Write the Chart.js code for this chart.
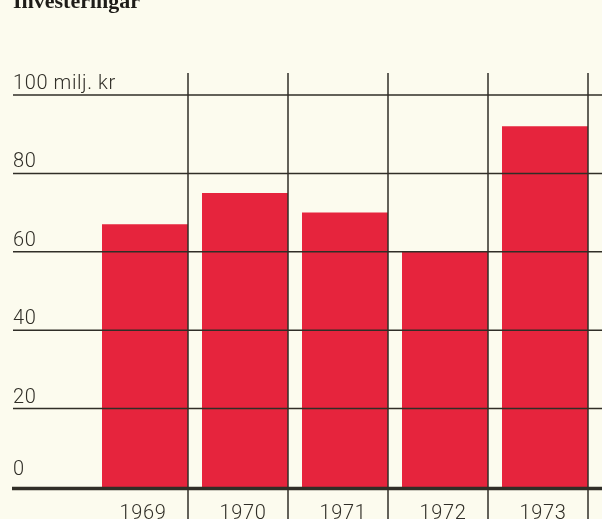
<!DOCTYPE html>
<html>
<head>
<meta charset="utf-8">
<script src="https://cdn.jsdelivr.net/npm/chart.js@4/dist/chart.umd.min.js"></script>
<style>
  html, body { margin: 0; padding: 0; background: #fcfbee; }
  #wrap { position: relative; width: 602px; height: 519px; }
</style>
</head>
<body>
<div id="wrap"><canvas id="chart-bars"></canvas></div>
<script>
  var title = "Investeringar";
  var years = ["1969", "1970", "1971", "1972", "1973"];
  var investments = [67, 75, 70, 60, 92];
  var tickValues = [0, 20, 40, 60, 80, 100];
  var tickLabels = ["0", "20", "40", "60", "80", "100 milj. kr"];

  var inkColor = "#302e27";
  var labelFont = "300 20px Roboto";

  // grid, axis labels and title drawn over the bars, as in the print
  var paperGrid = {
    id: "paperGrid",
    afterDatasetsDraw: function (chart) {
      var ctx = chart.ctx;
      var y = chart.scales.y;
      var bars = chart.getDatasetMeta(0).data;
      ctx.save();
      ctx.strokeStyle = inkColor;
      ctx.fillStyle = inkColor;
      ctx.letterSpacing = "0.6px";

      // horizontal lines
      tickValues.forEach(function (v, i) {
        var py = y.getPixelForValue(v);
        ctx.lineWidth = v === 0 ? 3.5 : 1.5;
        ctx.beginPath();
        ctx.moveTo(v === 0 ? 12 : 13, v === 0 ? py + 1.5 : py);
        ctx.lineTo(602, v === 0 ? py + 1.5 : py);
        ctx.stroke();
        ctx.font = labelFont;
        ctx.textAlign = "left";
        ctx.textBaseline = "alphabetic";
        ctx.fillText(tickLabels[i], 13, v === 0 ? py - 12 : py - 6);
      });

      // vertical lines on the right edge of each bar
      ctx.lineWidth = 1.5;
      bars.forEach(function (bar, i) {
        var px = Math.round(bar.x + bar.width / 2);
        ctx.beginPath();
        ctx.moveTo(px, 73);
        ctx.lineTo(px, 519);
        ctx.stroke();
        ctx.font = labelFont;
        ctx.textAlign = "center";
        ctx.fillText(years[i], bar.x - 2, 519);
      });

      // title, cut at the top edge
      ctx.letterSpacing = "0px";
      ctx.font = "bold 22px 'Liberation Serif'";
      ctx.textAlign = "left";
      ctx.fillStyle = "#1e1c18";
      ctx.fillText(title, 13, 8);
      ctx.restore();
    }
  };

  var ctx = document.getElementById("chart-bars").getContext("2d");

  new Chart(ctx, {
    type: "bar",
    data: {
      labels: years,
      datasets: [{
        label: title,
        data: investments,
        backgroundColor: "#e6243d",
        borderWidth: 0,
        barPercentage: 0.86,
        categoryPercentage: 1.0
      }]
    },
    options: {
      responsive: true,
      maintainAspectRatio: false,
      animation: false,
      layout: {
        padding: { top: 95, left: 95, right: 7, bottom: 32 }
      },
      plugins: {
        legend: { display: false },
        tooltip: { enabled: false }
      },
      scales: {
        x: { display: false },
        y: { display: false, min: 0, max: 100 }
      }
    },
    plugins: [paperGrid]
  });
</script>
</body>
</html>
